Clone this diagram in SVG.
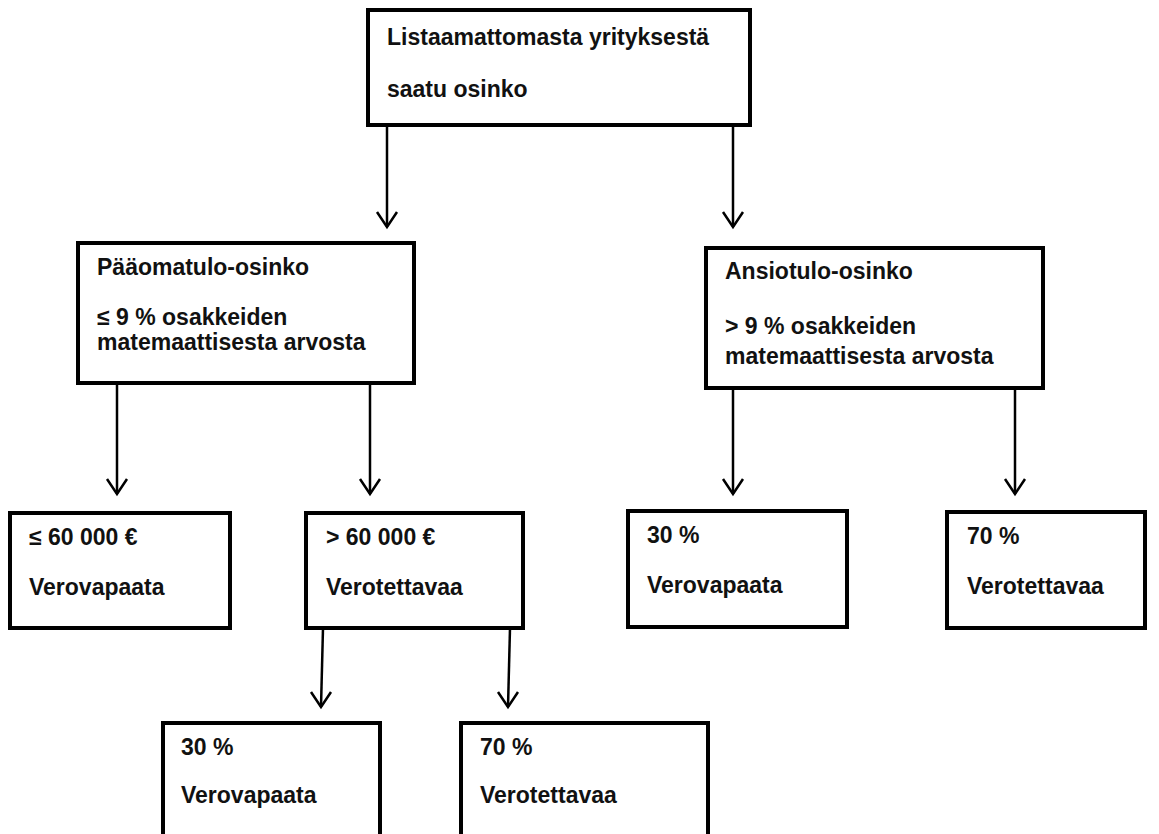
<svg xmlns="http://www.w3.org/2000/svg" width="1159" height="834" viewBox="0 0 1159 834">
<style>
.box{fill:#fff;stroke:#000;stroke-width:4}
.t{font-family:"Liberation Sans",Arial,sans-serif;font-weight:bold;font-size:23px;fill:#111}
.c line,.c polyline{stroke:#000;stroke-width:2.5;fill:none}
</style>
<rect width="1159" height="834" fill="#fff"/>
<g class="c" id="connectors">
<line x1="387" y1="125" x2="387" y2="227"/><polyline points="377,212 387,227 397,212"/>
<line x1="733" y1="125" x2="733" y2="227"/><polyline points="723,212 733,227 743,212"/>
<line x1="117" y1="383" x2="117" y2="494"/><polyline points="107,479 117,494 127,479"/>
<line x1="370" y1="383" x2="370" y2="494"/><polyline points="360,479 370,494 380,479"/>
<line x1="733" y1="388" x2="733" y2="494"/><polyline points="723,479 733,494 743,479"/>
<line x1="1015" y1="388" x2="1015" y2="494"/><polyline points="1005,479 1015,494 1025,479"/>
<line x1="323" y1="628" x2="321" y2="707"/><polyline points="311,692 321,707 331,692"/>
<line x1="510" y1="628" x2="508" y2="707"/><polyline points="498,692 508,707 518,692"/>
</g>
<g id="top">
<rect class="box" x="368" y="10" width="382" height="115"/>
<text class="t" x="387" y="45">Listaamattomasta yrityksestä</text>
<text class="t" x="387" y="97">saatu osinko</text>
</g>
<g id="paaoma">
<rect class="box" x="78" y="243" width="336" height="140"/>
<text class="t" x="97" y="275">Pääomatulo-osinko</text>
<text class="t" x="97" y="325">≤ 9 % osakkeiden</text>
<text class="t" x="97" y="350">matemaattisesta arvosta</text>
</g>
<g id="ansio">
<rect class="box" x="706" y="248" width="337" height="140"/>
<text class="t" x="725" y="279">Ansiotulo-osinko</text>
<text class="t" x="725" y="334">&gt; 9 % osakkeiden</text>
<text class="t" x="725" y="364">matemaattisesta arvosta</text>
</g>
<g id="alle60">
<rect class="box" x="10" y="513" width="220" height="115"/>
<text class="t" x="29" y="545">≤ 60 000 €</text>
<text class="t" x="29" y="595">Verovapaata</text>
</g>
<g id="yli60">
<rect class="box" x="306" y="513" width="217" height="115"/>
<text class="t" x="326" y="545">&gt; 60 000 €</text>
<text class="t" x="326" y="595">Verotettavaa</text>
</g>
<g id="ansio30">
<rect class="box" x="628" y="511" width="219" height="116"/>
<text class="t" x="647" y="543">30 %</text>
<text class="t" x="647" y="593">Verovapaata</text>
</g>
<g id="ansio70">
<rect class="box" x="947" y="512" width="198" height="116"/>
<text class="t" x="967" y="544">70 %</text>
<text class="t" x="967" y="594">Verotettavaa</text>
</g>
<g id="yli30">
<rect class="box" x="163" y="723" width="217" height="130"/>
<text class="t" x="181" y="755">30 %</text>
<text class="t" x="181" y="803">Verovapaata</text>
</g>
<g id="yli70">
<rect class="box" x="461" y="723" width="247" height="130"/>
<text class="t" x="480" y="755">70 %</text>
<text class="t" x="480" y="803">Verotettavaa</text>
</g>
</svg>
